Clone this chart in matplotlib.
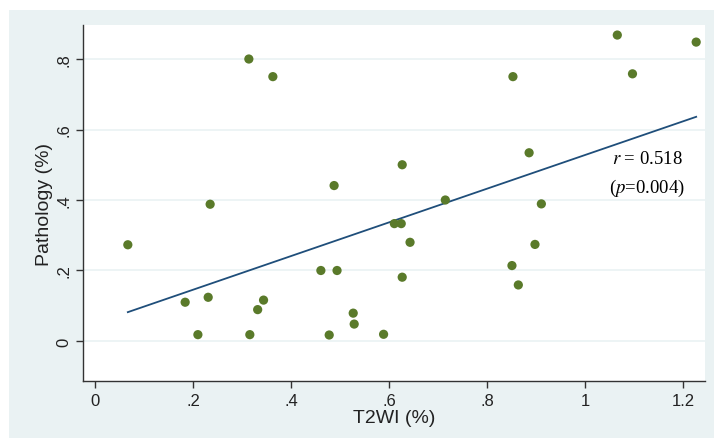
import numpy as np
import matplotlib.pyplot as plt
from matplotlib.patches import Rectangle

t2wi = [0.067, 0.184, 0.210, 0.231, 0.235, 0.314, 0.363, 0.316, 0.332, 0.344,
        0.461, 0.488, 0.494, 0.478, 0.527, 0.529, 0.589, 0.611, 0.625, 0.627,
        0.627, 0.643, 0.715, 0.851, 0.853, 0.864, 0.886, 0.911, 0.898, 1.066,
        1.097, 1.227]
pathology = [0.273, 0.110, 0.018, 0.124, 0.388, 0.800, 0.750, 0.018, 0.089, 0.116,
             0.200, 0.441, 0.200, 0.017, 0.079, 0.048, 0.019, 0.333, 0.333, 0.500,
             0.181, 0.280, 0.400, 0.214, 0.750, 0.159, 0.534, 0.389, 0.274, 0.868,
             0.758, 0.848]
xticks = [0, 0.2, 0.4, 0.6, 0.8, 1, 1.2]
xticklabels = ['0', '.2', '.4', '.6', '.8', '1', '1.2']
yticks = [0, 0.2, 0.4, 0.6, 0.8]
yticklabels = ['0', '.2', '.4', '.6', '.8']

bg = '#eaf2f3'
fig = plt.figure(figsize=(7.14, 4.39), dpi=100, facecolor='white')
fig.patches.append(Rectangle((9 / 714, 0), 1, 1 - 11 / 439, transform=fig.transFigure,
                             facecolor=bg, edgecolor='none', zorder=-10))
ax = fig.add_axes([83 / 714, 1 - 382 / 439, 622 / 714, 356 / 439])
ax.set_facecolor('white')

x = np.array(t2wi)
y = np.array(pathology)
slope, intercept = np.polyfit(x, y, 1)
xl = np.array([x.min(), x.max()])
ax.plot(xl, intercept + slope * xl, color='#1f4e7a', lw=1.3, zorder=2)
ax.scatter(x, y, s=44, color='#5a7a2a', edgecolors='none', zorder=3)

ax.set_xlim(-0.0245, 1.245)
ax.set_ylim(-0.1135, 0.8965)
ax.set_xticks(xticks)
ax.set_xticklabels(xticklabels)
ax.set_yticks(yticks)
ax.set_yticklabels(yticklabels, rotation=90, va='center')
ax.yaxis.grid(True, color=bg, lw=1.2)
ax.set_axisbelow(True)
for s in ['top', 'right']:
    ax.spines[s].set_visible(False)
for s in ['left', 'bottom']:
    ax.spines[s].set_color('#333333')
    ax.spines[s].set_linewidth(1)
ax.tick_params(direction='out', length=5, width=1, color='#333333',
               labelsize=12, labelcolor='#222222')
for lab in ax.get_xticklabels() + ax.get_yticklabels():
    lab.set_family('Liberation Sans')
ax.set_xlabel('T2WI (%)', fontsize=14, family='Liberation Sans', labelpad=1, color='#222222')
ax.set_ylabel('Pathology (%)', fontsize=14, family='Liberation Sans', labelpad=2, color='#222222')

ax.text(1.1265, 0.519, r'$\it{r}$ = 0.518', ha='center', va='center', fontsize=13.5,
        family='Liberation Serif', math_fontfamily='stix')
ax.text(1.1265, 0.437, r'($\it{p}$=0.004)', ha='center', va='center', fontsize=13.5,
        family='Liberation Serif', math_fontfamily='stix')

fig.savefig('out.png', dpi=100, facecolor='white')
